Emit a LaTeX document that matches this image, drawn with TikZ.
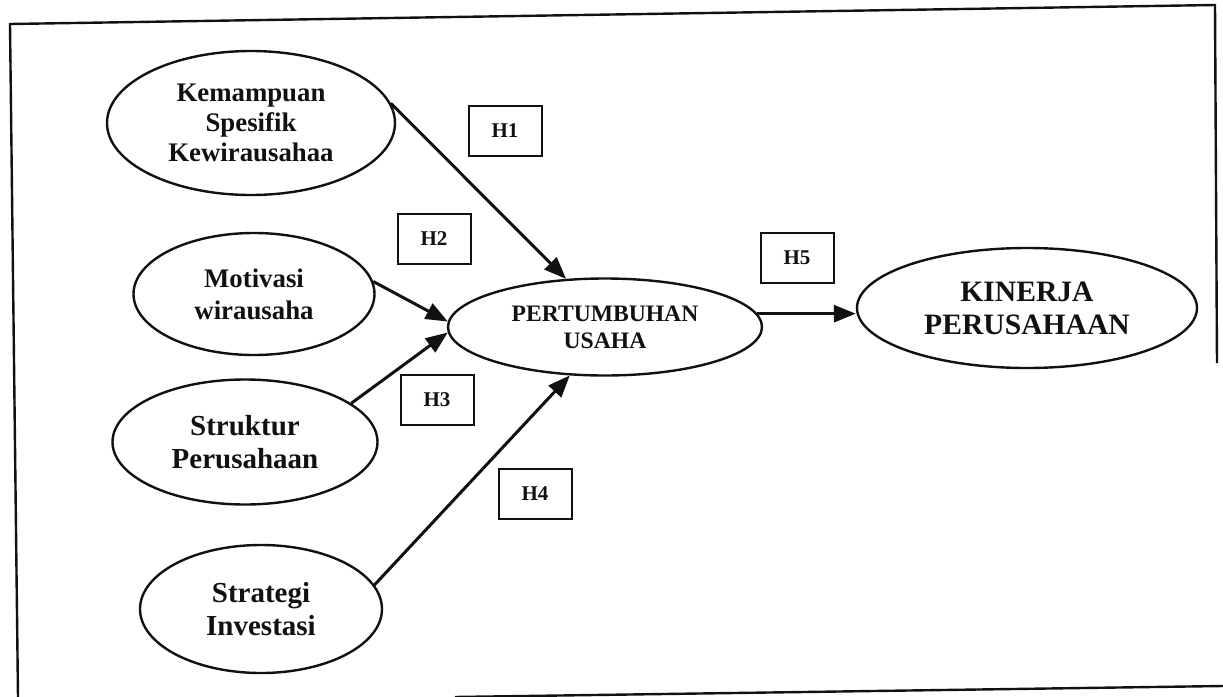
\documentclass[tikz,border=0pt]{standalone}
\usepackage{fontspec}
\setmainfont{Liberation Serif}
\usepackage{xcolor}
\usepackage{tikz}
\usetikzlibrary{arrows.meta,shapes.geometric}
\definecolor{inkmain}{HTML}{111111}
\tikzset{
  every node/.append style={font=\rmfamily\bfseries,text=inkmain},
  var/.style={draw=inkmain,line width=1.2pt,ellipse,inner sep=0pt,align=center},
  hyp/.style={draw=inkmain,line width=1pt,rectangle,inner sep=0pt,
    minimum width=36.5pt,minimum height=25pt,font=\rmfamily\bfseries\fontsize{10.5}{12}\selectfont},
  path/.style={-{Triangle[length=11pt,width=8.5pt]},line width=1.5pt,draw=inkmain}
}

\begin{document}
\begin{tikzpicture}[x=.5pt,y=-.5pt]
  \useasboundingbox (0,0) rectangle (1223,697);
  % frame (scanned, slightly tilted)
  \draw[inkmain,line width=1.2pt] (18,697)--(10,24)--(1215,5)--(1217,363);
  \draw[inkmain,line width=1.2pt] (455,697)--(1223,686);
  % variables
  \node[var,minimum width=144pt,minimum height=72pt,
    font=\rmfamily\bfseries\fontsize{13.4}{15}\selectfont] (kem) at (251,123)
    {Kemampuan\\Spesifik\\Kewirausahaa};
  \node[var,minimum width=120.5pt,minimum height=61pt,
    font=\rmfamily\bfseries\fontsize{13.4}{16}\selectfont] (mot) at (254,294)
    {Motivasi\\wirausaha};
  \node[var,minimum width=132.5pt,minimum height=62.5pt,
    font=\rmfamily\bfseries\fontsize{14.5}{16.5}\selectfont] (str) at (245,442)
    {Struktur\\Perusahaan};
  \node[var,minimum width=121pt,minimum height=64pt,
    font=\rmfamily\bfseries\fontsize{14.5}{16.5}\selectfont] (strat) at (261,609)
    {Strategi\\Investasi};
  \node[var,minimum width=157pt,minimum height=48.5pt,
    font=\rmfamily\bfseries\fontsize{11.8}{13.5}\selectfont] (pert) at (605,327)
    {PERTUMBUHAN\\USAHA};
  \node[var,minimum width=170pt,minimum height=60pt,
    font=\rmfamily\bfseries\fontsize{14.8}{16.5}\selectfont] (kin) at (1027,308)
    {KINERJA\\PERUSAHAAN};
  % hypotheses
  \node[hyp] (h1) at (505,131) {H1};
  \node[hyp] (h2) at (434,239) {H2};
  \node[hyp] (h3) at (437,400) {H3};
  \node[hyp] (h4) at (535,494) {H4};
  \node[hyp] (h5) at (797,258) {H5};
  % paths
  \draw[path] (kem.8) -- (pert.129);
  \draw[path] (mot.6) -- (pert.178);
  \draw[path] (str.20) -- (pert.182);
  \draw[path] (strat.12) -- (pert.234);
  \draw[path] (pert.5) -- (pert.5 -| kin.west);
\end{tikzpicture}
\end{document}
